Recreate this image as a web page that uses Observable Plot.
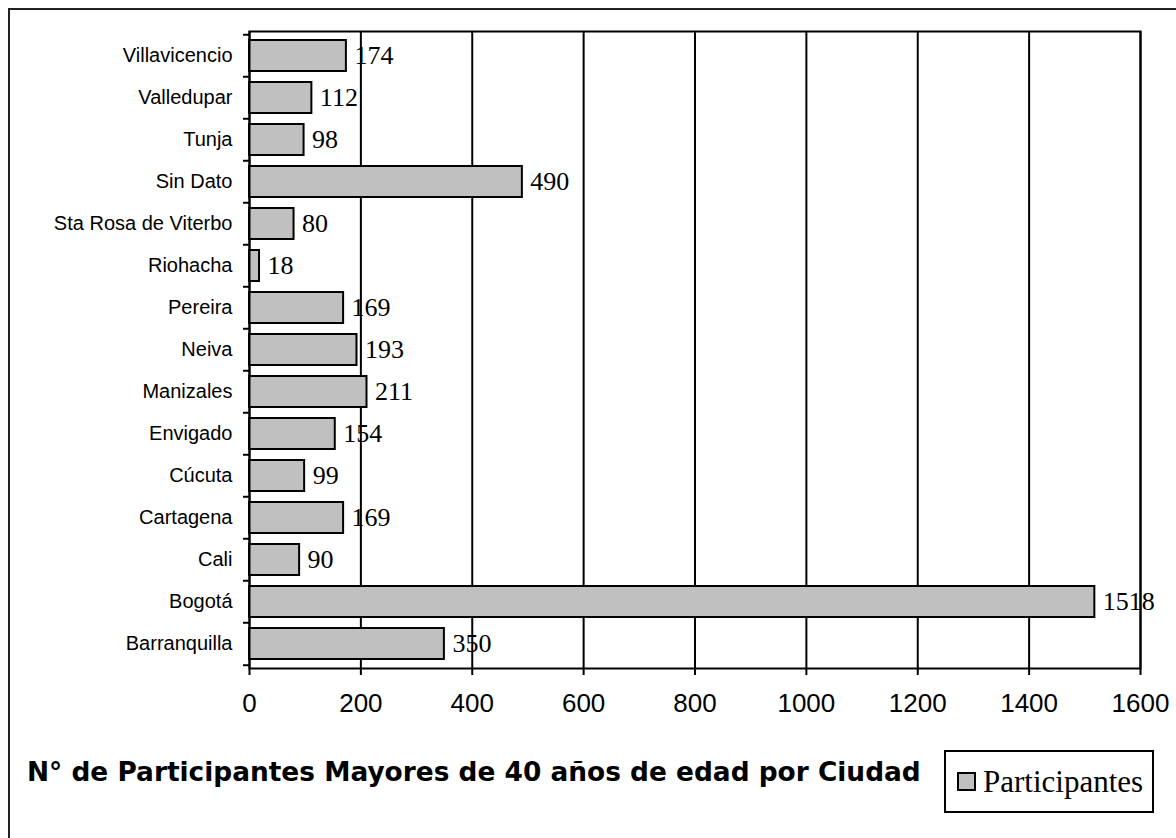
<!DOCTYPE html>
<html>
<head>
<meta charset="utf-8">
<script src="https://cdn.jsdelivr.net/npm/d3@7"></script>
<script src="https://cdn.jsdelivr.net/npm/@observablehq/plot@0.6"></script>
<style>
  html, body { margin: 0; padding: 0; background: #fff; }
  #wrap { position: relative; width: 1176px; height: 838px; overflow: hidden; }
  #border { position: absolute; left: 8px; top: 8px; width: 1300px; height: 1000px; border-left: 2px solid #222; border-top: 2px solid #222; box-sizing: border-box; }
  #chart { position: absolute; left: 0; top: 0; }
  #title { position: absolute; left: 27px; top: 756px; font-family: "DejaVu Sans", sans-serif; font-weight: bold; font-size: 26.4px; color: #000; white-space: nowrap; }
  #legend { position: absolute; left: 944px; top: 750px; width: 210px; height: 63px; border: 2px solid #000; box-sizing: border-box; font-family: "Liberation Serif", serif; font-size: 31px; display: flex; align-items: center; }
  #legend .sw { width: 15px; height: 15px; background: #c0c0c0; border: 2px solid #000; margin-left: 11px; margin-right: 7px; }
</style>
</head>
<body>
<div id="wrap">
  <div id="border"></div>
  <div id="chart"></div>
  <div id="title"></div>
  <div id="legend"><div class="sw"></div><span id="legtext"></span></div>
</div>
<script>
const cities = ["Villavicencio","Valledupar","Tunja","Sin Dato","Sta Rosa de Viterbo","Riohacha","Pereira","Neiva","Manizales","Envigado","Cúcuta","Cartagena","Cali","Bogotá","Barranquilla"];
const participantes = [174,112,98,490,80,18,169,193,211,154,99,169,90,1518,350];
const xTicks = [0,200,400,600,800,1000,1200,1400,1600];
const seriesName = "Participantes";
const titleText = "N° de Participantes Mayores de 40 años de edad por Ciudad";

const data = cities.map((c, i) => ({city: c, value: participantes[i]}));

const W = 1176, H = 740, mT = 31, mB = 72, mL = 249, mR = 36;
const step = (H - mT - mB) / cities.length;
const pad = 0.27;

const chart = Plot.plot({
  width: W, height: H,
  marginTop: mT, marginBottom: mB, marginLeft: mL, marginRight: mR,
  style: {background: "transparent"},
  x: {domain: [0, 1600], ticks: xTicks},
  y: {domain: cities, paddingInner: pad, paddingOuter: pad / 2},
  marks: [
    Plot.gridX(xTicks, {stroke: "#000", strokeOpacity: 1, strokeWidth: 2}),
    Plot.barX(data, {x: "value", y: "city", fill: "#c0c0c0", stroke: "#000", strokeWidth: 2}),
    Plot.text(data, {x: "value", y: "city", text: d => String(d.value), dx: 8, textAnchor: "start", fontFamily: "Liberation Serif, serif", fontSize: 26, fill: "#000"}),
    Plot.ruleY(cities, {y: d => d, x1: 0, x2: 0, insetLeft: -6, dy: -step / 2, stroke: "#000", strokeWidth: 2}),
    Plot.ruleY(cities.slice(-1), {y: d => d, x1: 0, x2: 0, insetLeft: -6, dy: step / 2, stroke: "#000", strokeWidth: 2}),
    Plot.axisY({tickSize: 0, tickPadding: 17, fontSize: 20, fontFamily: "Liberation Sans, Arial, sans-serif", label: null, fill: "#000"}),
    Plot.axisX(xTicks, {tickSize: 7, tickPadding: 18, tickFormat: d => String(d), fontSize: 26, fontFamily: "Liberation Sans, Arial, sans-serif", label: null, stroke: "#000", strokeWidth: 2, fill: "#000"}),
    Plot.frame({stroke: "#000", strokeWidth: 2})
  ]
});
document.getElementById("chart").appendChild(chart);
document.getElementById("title").textContent = titleText;
document.getElementById("legtext").textContent = seriesName;
</script>
</body>
</html>
